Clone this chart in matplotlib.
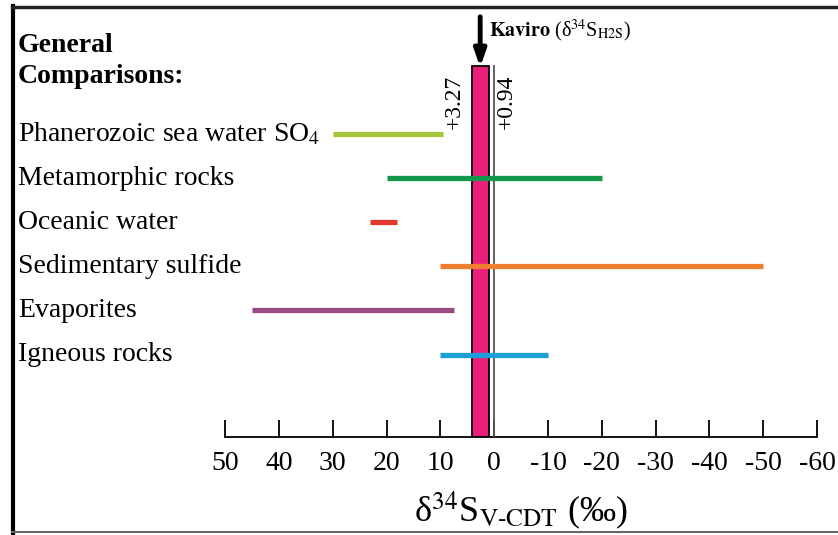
import matplotlib
matplotlib.use("Agg")
import matplotlib.pyplot as plt
from matplotlib.lines import Line2D
import matplotlib.transforms as mtransforms

plt.rcParams['font.family'] = ['Liberation Serif', 'DejaVu Serif']
plt.rcParams['mathtext.fontset'] = 'stix'

# ranges of d34S (per mil) for comparison groups, top to bottom
groups = ["Phanerozoic sea water SO$_4$", "Metamorphic rocks", "Oceanic water",
          "Sedimentary sulfide", "Evaporites", "Igneous rocks"]
range_high = [30, 20, 23, 10, 45, 10]
range_low = [9.5, -20, 18, -50, 7.5, -10]
colors = ["#a5c53a", "#10974a", "#e3392b", "#ef7f2e", "#9a4b86", "#1a9fd6"]

# Kaviro H2S values
kaviro_range = (0.94, 4.2)
kaviro_labels = ["+3.27", "+0.94"]

ticks = [50, 40, 30, 20, 10, 0, -10, -20, -30, -40, -50, -60]

fig = plt.figure(figsize=(8.38, 5.35), dpi=100)
ax = fig.add_axes((0.2687, 0.1832, 0.7062, 0.8019))
ax.set_xlim(50, -60)
ax.set_ylim(6.868, -2.856)

for i, (hi, lo, c) in enumerate(zip(range_high, range_low, colors)):
    ax.plot([hi, lo], [i, i], color=c, lw=3.8, solid_capstyle='butt', zorder=5)

# kaviro bar
bar_top = -1.55
ax.bar((kaviro_range[0] + kaviro_range[1]) / 2, 6.868 - bar_top, bottom=bar_top,
       width=kaviro_range[1] - kaviro_range[0], color="#e8207b", edgecolor="black",
       linewidth=1.3, zorder=4)
ax.plot([0.1, 0.1], [bar_top, 6.868], color="#555555", lw=1.3, zorder=4)

ax.annotate("", xy=(2.6, bar_top + 0.1), xytext=(2.6, -2.72),
            arrowprops=dict(arrowstyle="-|>,head_length=1.0,head_width=0.35",
                            color="black", lw=3.5), zorder=6)
ax.text(1.0, -2.33, r"$\mathbf{Kaviro}$ (δ$^{34}$S$_{\rm H2S}$)", fontsize=14.5,
        ha='left', va='center')
ax.text(7.4, -0.72, kaviro_labels[0], rotation=90, fontsize=17, ha='center', va='center')
ax.text(-2.2, -0.72, kaviro_labels[1], rotation=90, fontsize=17, ha='center', va='center')

trans = mtransforms.blended_transform_factory(fig.transFigure, ax.transData)
for i, g in enumerate(groups):
    ax.text(0.0215, i, g, transform=trans, fontsize=20, ha='left', va='center')
ax.text(0.0215, -1.66, "General\nComparisons:", transform=trans, fontsize=20,
        fontweight='bold', ha='left', va='center', linespacing=1.3)

for s in ['left', 'right', 'top']:
    ax.spines[s].set_visible(False)
ax.spines['bottom'].set_linewidth(1.3)
ax.set_yticks([])
ax.set_xticks(ticks)
ax.set_xticklabels([str(t) for t in ticks])
ax.tick_params(axis='x', direction='in', length=12, width=1.3, labelsize=20, pad=10)
ax.set_xlabel(r"δ$^{34}$S$_{\rm V\text{-}CDT}$ (‰)", fontsize=26, labelpad=10)

# outer frame
fig.add_artist(Line2D([13 / 838, 13 / 838], [1 - 6 / 535, 1 - 533 / 535],
                      transform=fig.transFigure, color="black", lw=3))
fig.add_artist(Line2D([12 / 838, 1], [1 - 7 / 535, 1 - 7 / 535],
                      transform=fig.transFigure, color="#222222", lw=2.5))
fig.add_artist(Line2D([12 / 838, 1], [1 - 532 / 535, 1 - 532 / 535],
                      transform=fig.transFigure, color="#666666", lw=1.5))

fig.savefig("out.png", dpi=100)
